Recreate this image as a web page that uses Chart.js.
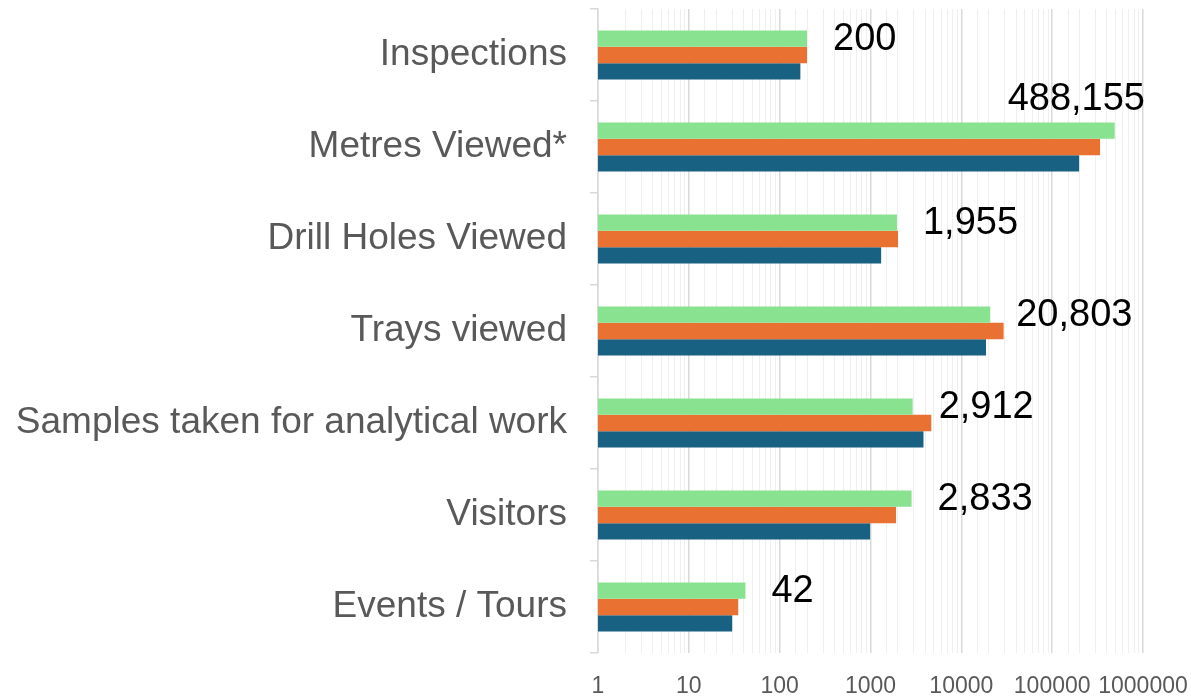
<!DOCTYPE html>
<html>
<head>
<meta charset="utf-8">
<script src="https://cdn.jsdelivr.net/npm/chart.js@4.4.1/dist/chart.umd.min.js"></script>
<style>
  html, body { margin: 0; padding: 0; background: #ffffff; }
  #wrap { width: 1191px; height: 696px; position: relative; }
</style>
</head>
<body>
<div id="wrap"><canvas id="c" width="1191" height="696"></canvas></div>
<script>
const categories = ["Inspections", "Metres Viewed*", "Drill Holes Viewed", "Trays viewed", "Samples taken for analytical work", "Visitors", "Events / Tours"];
const seriesGreen  = [200, 488155, 1955, 20803, 2912, 2833, 42];
const seriesOrange = [200, 337000, 2010, 29200, 4670, 1910, 35];
const seriesBlue   = [169, 198000, 1310, 18700, 3830, 990, 30];
const xTickValues  = [1, 10, 100, 1000, 10000, 100000, 1000000];

const isDecade = v => xTickValues.includes(v);

const labelPlugin = {
  id: 'valueLabels',
  afterDatasetsDraw(chart) {
    const ctx = chart.ctx;
    const meta = chart.getDatasetMeta(0);
    const area = chart.chartArea;
    ctx.save();
    ctx.font = '38px "Liberation Sans", Arial, sans-serif';
    ctx.fillStyle = '#000000';
    ctx.textBaseline = 'middle';
    meta.data.forEach((bar, i) => {
      const txt = seriesGreen[i].toLocaleString('en-US');
      const w = ctx.measureText(txt).width;
      let x = bar.x + 26;
      let y = bar.y + 1;
      if (x + w > area.right) {
        x = area.right + 2 - w;
        y = bar.y - bar.height / 2 - 23;
      }
      ctx.textAlign = 'left';
      ctx.fillText(txt, x, y);
    });
    ctx.restore();
  }
};

new Chart(document.getElementById('c'), {
  type: 'bar',
  data: {
    labels: categories,
    datasets: [
      { label: 'A', data: seriesGreen, backgroundColor: '#88E28F' },
      { label: 'B', data: seriesOrange, backgroundColor: '#E97132' },
      { label: 'C', data: seriesBlue, backgroundColor: '#186182' }
    ]
  },
  options: {
    indexAxis: 'y',
    responsive: false,
    animation: false,
    devicePixelRatio: 1,
    layout: { padding: { top: 9, right: 48, bottom: 0, left: 0 } },
    datasets: { bar: { categoryPercentage: 0.53, barPercentage: 1.0 } },
    plugins: { legend: { display: false }, tooltip: { enabled: false } },
    scales: {
      x: {
        type: 'logarithmic',
        min: 1,
        max: 1000000,
        border: { display: false },
        grid: {
          drawTicks: false,
          color: c => (c.tick && isDecade(c.tick.value)) ? '#d9d9d9' : '#efefef',
          lineWidth: c => (c.tick && isDecade(c.tick.value)) ? 1.5 : 1
        },
        ticks: {
          autoSkip: false,
          maxRotation: 0,
          padding: 20,
          color: '#595959',
          font: { family: '"Liberation Sans", Arial, sans-serif', size: 23 },
          callback: v => isDecade(v) ? String(v) : ''
        },
        afterFit: s => { s.height = 43; s.paddingLeft = 0; s.paddingRight = 0; }
      },
      y: {
        border: { display: true, color: '#d9d9d9', width: 1.5 },
        grid: { drawOnChartArea: false, drawTicks: true, tickLength: 8, color: '#d9d9d9', lineWidth: 1.5 },
        ticks: {
          padding: 23,
          color: '#595959',
          font: { family: '"Liberation Sans", Arial, sans-serif', size: 37 }
        },
        afterFit: s => { s.width = 598; s.paddingTop = 0; s.paddingBottom = 0; }
      }
    }
  },
  plugins: [labelPlugin]
});
</script>
</body>
</html>
